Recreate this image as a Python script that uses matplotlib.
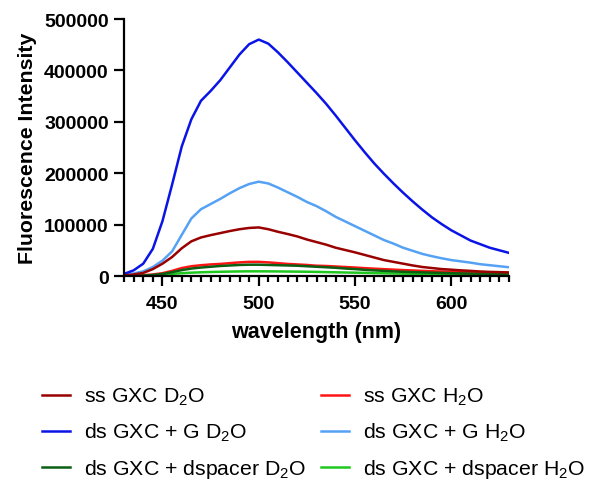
import numpy as np
import matplotlib
matplotlib.use("Agg")
import matplotlib.pyplot as plt
from matplotlib.ticker import MultipleLocator

plt.rcParams["font.family"] = ["Liberation Sans", "DejaVu Sans"]
plt.rcParams["mathtext.fontset"] = "custom"
plt.rcParams["mathtext.rm"] = "Liberation Sans"
plt.rcParams["mathtext.it"] = "Liberation Sans:italic"
plt.rcParams["mathtext.bf"] = "Liberation Sans:bold"

# wavelength grid (nm) and intensities
wavelength = np.arange(430, 631, 5)

ss_d2o = [1000, 3000, 6000, 13500, 24000, 37000, 54000, 67500, 75000, 79500,
          83500, 87500, 91000, 93500, 94500, 91000, 86000, 81700, 77000, 71000,
          66000, 61000, 55000, 50500, 46000, 41000, 36000, 31000, 27500, 24000,
          20500, 17500, 15500, 13500, 12300, 11000, 10000, 8800, 8000, 7500, 7000]
ss_h2o = [500, 1000, 1500, 3000, 5500, 10000, 15500, 19000, 21000, 22500,
          23500, 25000, 26500, 27500, 27500, 26500, 25000, 23500, 22500, 21500,
          20000, 19500, 18500, 17500, 16500, 15300, 14300, 13300, 12400, 11500,
          10800, 10000, 9300, 8700, 8000, 7500, 7000, 6500, 6000, 5600, 5200]
dsg_d2o = [4000, 11000, 24000, 53000, 107000, 178000, 252000, 305000, 341000, 360000,
           381000, 406000, 431000, 451000, 460000, 452000, 435000, 416000, 396000, 376000,
           356000, 335000, 312000, 288000, 264000, 241000, 219000, 199000, 180000, 162000,
           145000, 129000, 114000, 101000, 89000, 79000, 69000, 62000, 55000, 50000, 45000]
dsg_h2o = [3000, 5000, 9000, 17500, 30000, 48000, 80000, 112000, 130000, 140000,
           150000, 161000, 171000, 179000, 183500, 180000, 172000, 163000, 154000, 144000,
           136000, 126000, 115000, 106000, 97000, 88000, 79000, 70000, 63000, 55000,
           49000, 43000, 38500, 34500, 31000, 28500, 26000, 23000, 21000, 19000, 17000]
dsp_d2o = [300, 600, 1000, 2000, 4000, 7500, 11500, 14500, 16500, 18000,
           19500, 20500, 21500, 22000, 22000, 21500, 21000, 20500, 20000, 19000,
           18000, 17000, 16000, 14500, 13500, 12000, 11000, 10000, 9000, 8200,
           7500, 7000, 6500, 6000, 5500, 5000, 4700, 4400, 4200, 4000, 3900]
dsp_h2o = [200, 400, 800, 1500, 2800, 4200, 5500, 6500, 7200, 7800,
           8200, 8600, 8900, 9100, 9100, 9000, 8900, 8700, 8500, 8300,
           8000, 7600, 7200, 6800, 6500, 6100, 5700, 5300, 4900, 4600,
           4300, 4000, 3800, 3500, 3300, 3100, 2900, 2800, 2600, 2500, 2400]

series = [
    ("ss GXC D$_2$O", ss_d2o, "#990000"),
    ("ds GXC + G D$_2$O", dsg_d2o, "#0a14e6"),
    ("ds GXC + dspacer D$_2$O", dsp_d2o, "#0b5e12"),
    ("ss GXC H$_2$O", ss_h2o, "#ff1414"),
    ("ds GXC + G H$_2$O", dsg_h2o, "#55a2f5"),
    ("ds GXC + dspacer H$_2$O", dsp_h2o, "#1ec81e"),
]

fig = plt.figure(figsize=(5.91, 4.81), dpi=100)
ax = fig.add_axes([0.2098, 0.4241, 0.6515, 0.5343])

# low curves first so the big ones sit on top
handles = {}
for label, vals, color in reversed(series):
    h, = ax.plot(wavelength, vals, color=color, lw=1.8, label=label)
    handles[label] = h

ax.set_xlim(430, 630)
ax.set_ylim(0, 500000)
ax.xaxis.set_minor_locator(MultipleLocator(5))
ax.yaxis.set_major_locator(MultipleLocator(100000))
ax.set_xticks([450, 500, 550, 600])

for s in ("top", "right"):
    ax.spines[s].set_visible(False)
for s in ("left", "bottom"):
    ax.spines[s].set_linewidth(1.6)
ax.tick_params(which="major", direction="out", length=7, width=1.6, labelsize=14)
ax.tick_params(axis="x", which="major", pad=7)
ax.tick_params(axis="y", which="major", pad=4)
ax.tick_params(which="minor", direction="out", length=4, width=1.6)
for t in ax.get_xticklabels() + ax.get_yticklabels():
    t.set_fontweight("bold")

ax.set_xlabel("wavelength (nm)", fontsize=15.5, fontweight="bold", labelpad=6)
ax.set_ylabel("Fluorescence Intensity", fontsize=15.3, fontweight="bold", labelpad=5)

fig.legend([handles[s[0]] for s in series], [s[0] for s in series],
           ncol=2, loc="upper left", bbox_to_anchor=(0.071, 0.1955),
           frameon=False, fontsize=15.3, handlelength=1.3, handletextpad=0.69,
           columnspacing=0.7, labelspacing=0.65, borderpad=0, borderaxespad=0)

fig.savefig("out.png", dpi=100)
